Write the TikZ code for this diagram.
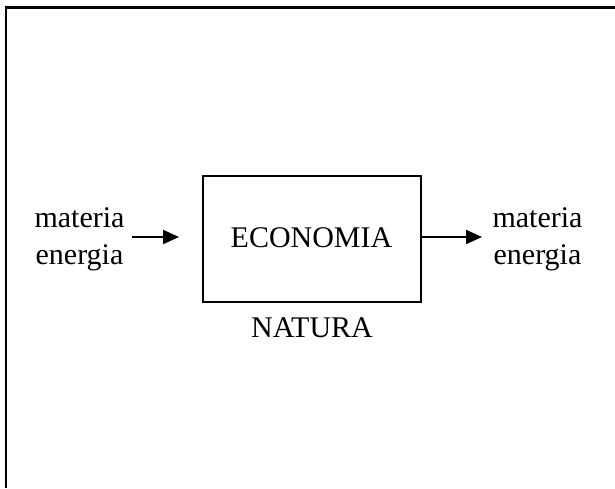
\documentclass[tikz,border=0pt]{standalone}
\usepackage{fontspec}
\setmainfont{Liberation Serif}
\usetikzlibrary{arrows.meta}
\tikzset{
  lbl/.style={inner sep=0pt, font=\fontsize{30}{36.5}\selectfont, align=center},
  frame/.style={line width=2.4pt},
  boxst/.style={draw, line width=2.2pt, inner sep=0pt, minimum width=218pt, minimum height=126pt},
  arr/.style={line width=2pt, -{Triangle[length=16pt,width=14pt]}}
}
\begin{document}
\begin{tikzpicture}[x=1pt,y=-1pt]
\useasboundingbox (0,0) rectangle (615,488);
\fill[white] (0,0) rectangle (615,488);
% outer frame (top and left edges visible)
\coordinate (ftr) at (615,7.5);
\coordinate (ftl) at (6,7.5);
\coordinate (fbl) at (6,488);
\draw[frame] (ftr) -- (ftl) -- (fbl);
% box
\node[boxst] (box) at (312,239) {};
\node[lbl, anchor=base] (eco) at (311.5,247) {ECONOMIA};
\node[lbl, anchor=base] (nat) at (312,337) {NATURA};
% texts
\node[lbl] (lt) at (79.5,239.5) {materia\\energia};
\node[lbl] (rt) at (537.5,239.5) {materia\\energia};
% arrows
\coordinate (a1s) at (132,237);
\coordinate (a1e) at (179,237);
\coordinate (a2s) at (421,237);
\coordinate (a2e) at (482,237);
\draw[arr] (a1s) -- (a1e);
\draw[arr] (a2s) -- (a2e);
\end{tikzpicture}
\end{document}
